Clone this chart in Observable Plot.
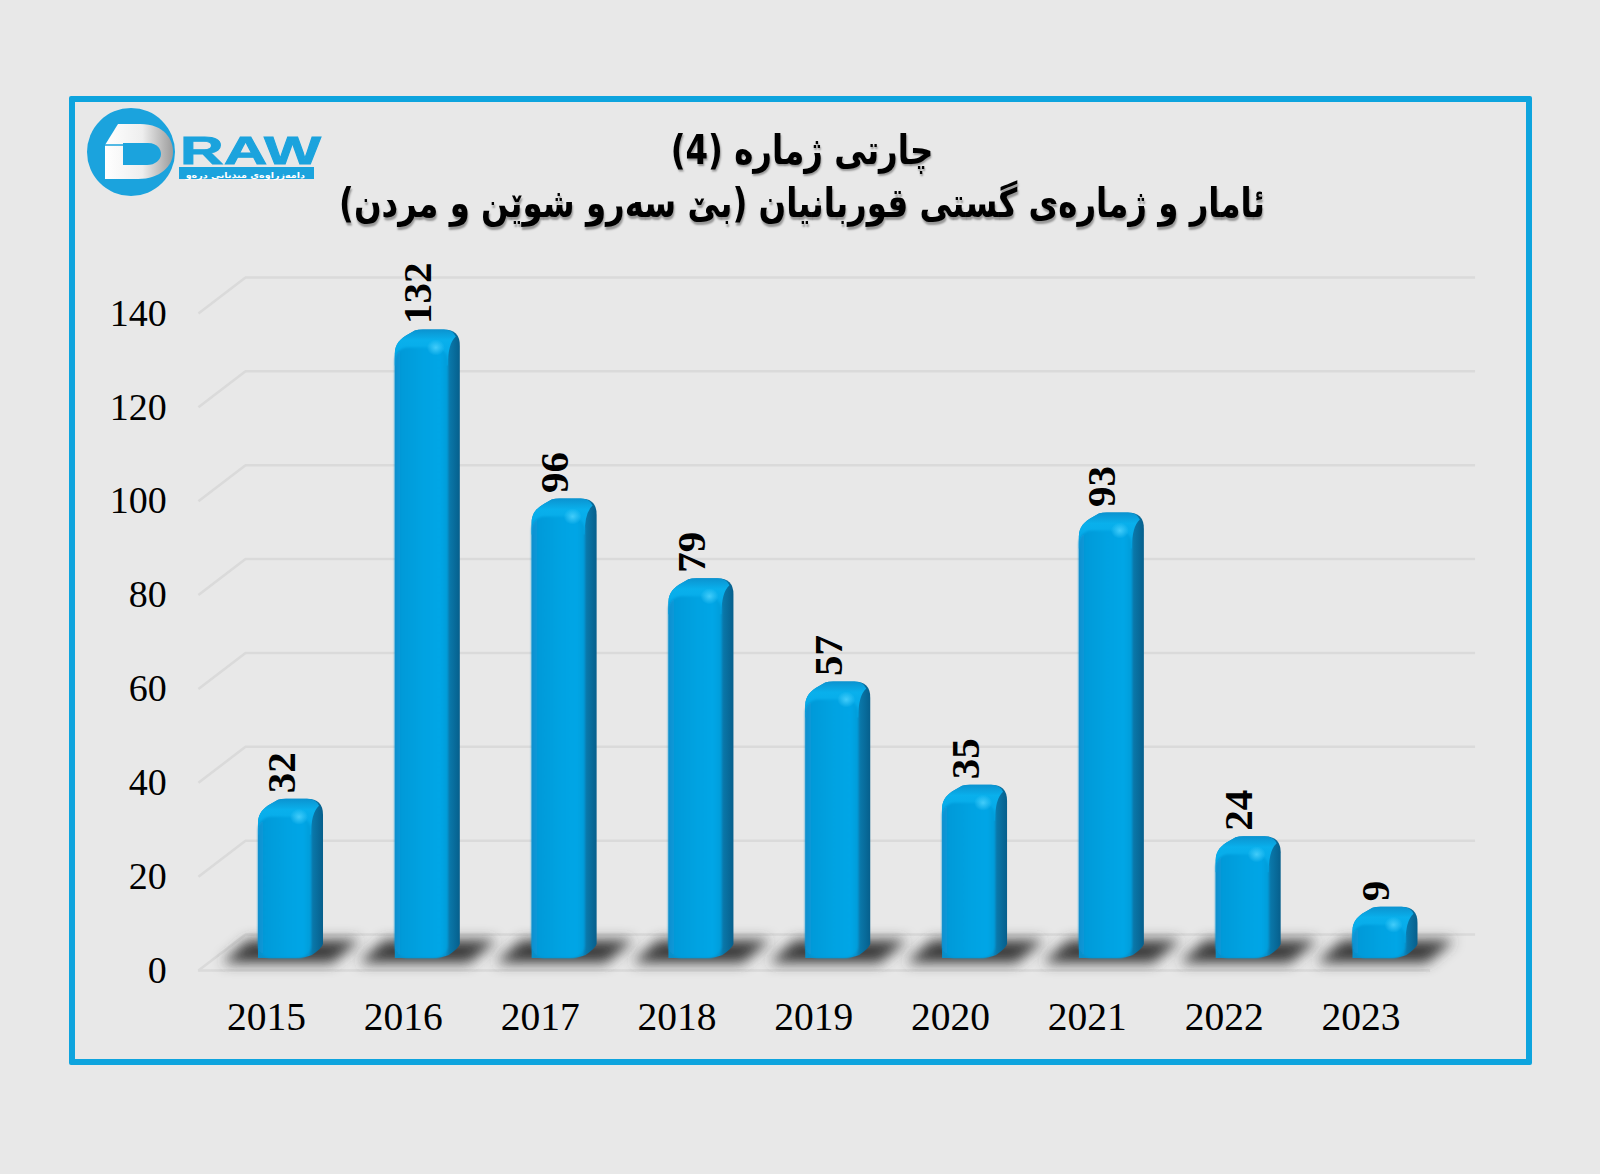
<!DOCTYPE html>
<html lang="ckb">
<head>
<meta charset="utf-8">
<script src="https://cdn.jsdelivr.net/npm/d3@7"></script>
<script src="https://cdn.jsdelivr.net/npm/@observablehq/plot@0.6"></script>
<style>
  html, body { margin: 0; padding: 0; background: #e8e8e8; }
  #page { position: relative; width: 1600px; height: 1174px; overflow: hidden; background: #e8e8e8; }
  #box { position: absolute; left: 69px; top: 96px; width: 1451px; height: 957px; border: 6.5px solid #0ea4de; border-radius: 2px; }
  #title { position: absolute; left: 0; width: 1604px; top: 129px; text-align: center; direction: rtl; color: #000;
           font-family: "DejaVu Sans", "Noto Sans", sans-serif; font-weight: 700; font-size: 36px; line-height: 48px;
           text-shadow: 1px 2px 2px rgba(0,0,0,.35); transform: scale(.9, 1.12); transform-origin: 50% 50%; }
  #logo { position: absolute; left: 0; top: 0; }
  #chart { position: absolute; left: 0; top: 0; }
  #chart svg { display: block; background: transparent; }
</style>
</head>
<body>
<div id="page">
  <div id="chart"></div>
  <div id="box"></div>
  <svg id="logo" width="340" height="210" viewBox="0 0 340 210">
    <defs>
      <linearGradient id="logoD" x1="0" x2="1" y1="0" y2="0">
        <stop offset="0" stop-color="#ffffff"/><stop offset=".55" stop-color="#eeeeee"/><stop offset="1" stop-color="#9c9c9c"/>
      </linearGradient>
    </defs>
    <circle cx="131" cy="152" r="44" fill="#1ba3dd"/>
    <path d="M105,145 L118,124 H140 C165,124 173,140 173,152 C173,166 160,179 138,179 H105 Z" fill="url(#logoD)"/>
    <path d="M123,143 H148 C158,143 161,150 161,154 C161,160 155,165 147,165 H123 Z" fill="#1ba3dd"/>
    <path d="M105,145 H123" stroke="#1ba3dd" stroke-width="1.5"/>
    <text x="180" y="164" textLength="141" lengthAdjust="spacingAndGlyphs" font-family="Liberation Sans" font-weight="700" font-size="39" fill="#1ba3dd" stroke="#1ba3dd" stroke-width=".8">RAW</text>
    <rect x="179" y="167" width="135" height="12" fill="#1ba3dd"/>
    <text transform="translate(305 178) scale(1.2 1)" text-anchor="start" direction="rtl" font-family="DejaVu Sans" font-weight="700" font-size="8" fill="#ffffff">دامەزراوەی میدیایی درەو</text>
  </svg>
  <div id="title">چارتی ژمارە (4)<br>ئامار و ژمارەی گستی قوربانیان (بێ سەرو شوێن و مردن)</div>
</div>
<script>
const years  = [2015, 2016, 2017, 2018, 2019, 2020, 2021, 2022, 2023];
const values = [32, 132, 96, 79, 57, 35, 93, 24, 9];
const yTicks = [0, 20, 40, 60, 80, 100, 120, 140];
const table = years.map((year, i) => ({year, value: values[i]}));

// Pseudo-3D depth of the chart box, in data units
const depthX = 0.344, depthY = 7.67;
const floorLeft = 2014.327, floorRight = 2023.333, wallRight = 2023.662;
const gridColor = "#dadada";
const serif = "Liberation Serif, Times New Roman, serif";

const defs = () => {
  const g = document.createElementNS("http://www.w3.org/2000/svg", "defs");
  g.innerHTML = `
    <linearGradient id="faceGrad" x1="0" x2="1" y1="0" y2="0">
      <stop offset="0" stop-color="#0a8fcf"/><stop offset=".12" stop-color="#069ad9"/>
      <stop offset=".5" stop-color="#02a2e1"/><stop offset=".85" stop-color="#00a6e6"/><stop offset="1" stop-color="#049cd9"/>
    </linearGradient>
    <linearGradient id="sideGrad" x1="0" x2="1" y1="0" y2="0">
      <stop offset="0" stop-color="#0a8ec8"/><stop offset=".78" stop-color="#0790cc"/><stop offset=".84" stop-color="#0a78aa"/><stop offset="1" stop-color="#065f8c"/>
    </linearGradient>
    <linearGradient id="topGrad" x1="0" x2="0" y1="0" y2="1">
      <stop offset="0" stop-color="#0b93d0"/><stop offset=".3" stop-color="#09b0ec"/><stop offset=".75" stop-color="#05aae9"/><stop offset="1" stop-color="#02a3e2"/>
    </linearGradient>
    <radialGradient id="glow"><stop offset="0" stop-color="#42ccfa"/><stop offset="1" stop-color="#42ccfa" stop-opacity="0"/></radialGradient>
    <filter id="soft" x="-30%" y="-100%" width="160%" height="300%"><feGaussianBlur stdDeviation="6.5"/></filter>
    <filter id="seam" x="-5%" y="-5%" width="110%" height="110%"><feGaussianBlur stdDeviation="1.3"/></filter>`;
  return g;
};

// Offsets of the bar's 3D silhouette from the value's position on the front plane
const topOf = (y, v) => y(v) - 21, baseOf = y => y(0) - 12;

const shadows = (index, {x, y}) => {
  const g = d3.create("svg:g");
  for (const d of table) {
    const cx = x(d.year), b = baseOf(y);
    g.append("path")
      .attr("d", `M${cx - 68},${b + 5} L${cx - 42},${b - 18} H${cx + 70} L${cx + 42},${b + 5} Z`)
      .attr("fill", "#3a3a3a").attr("filter", "url(#soft)");
  }
  return g.node();
};

const bodies = (index, {x, y}) => {
  const g = d3.create("svg:g");
  for (const d of table) {
    const l = x(d.year) - 32, r = l + 65, T = topOf(y, d.value), B = baseOf(y);
    g.append("path").attr("fill", "url(#sideGrad)")
      .attr("d", `M${l},${B} L${l},${T + 24} C${l},${T + 14} ${l + 6},${T + 9} ${l + 13},${T + 5} L${l + 20},${T + 1} Q${l + 23},${T} ${l + 28},${T} L${r - 16},${T} Q${r},${T} ${r},${T + 16} L${r},${B - 14} Q${r - 1},${B - 10} ${r - 11},${B - 3} Q${r - 18},${B} ${r - 28},${B} Z`);
    g.append("path").attr("fill", "url(#topGrad)")
      .attr("d", `M${l},${T + 36} L${l},${T + 24} C${l},${T + 14} ${l + 6},${T + 9} ${l + 13},${T + 5} L${l + 20},${T + 1} Q${l + 23},${T} ${l + 28},${T} L${r - 16},${T} Q${r - 7},${T} ${r - 4},${T + 7} Q${r - 12},${T + 14} ${r - 12},${T + 36} Z`);
  }
  return g.node();
};

const glows = (index, {x, y}) => {
  const g = d3.create("svg:g");
  for (const d of table) {
    g.append("ellipse").attr("cx", x(d.year) + 9).attr("cy", topOf(y, d.value) + 18)
      .attr("rx", 9).attr("ry", 8).attr("fill", "url(#glow)");
  }
  return g.node();
};

const chart = Plot.plot({
  width: 1600,
  height: 1174,
  marginLeft: 153.2,
  marginRight: 78.7,
  marginTop: 313,
  marginBottom: 204,
  style: {background: "transparent"},
  x: {type: "linear", domain: [2014, 2024]},
  y: {type: "linear", domain: [0, 140]},
  marks: [
    defs,
    // back wall and left wall grid lines
    Plot.ruleY(yTicks, {y: d => d + depthY, x1: () => floorLeft + depthX, x2: () => wallRight, stroke: gridColor, strokeWidth: 2.5}),
    Plot.link(yTicks, {x1: () => floorLeft, y1: d => d, x2: () => floorLeft + depthX, y2: d => d + depthY, stroke: gridColor, strokeWidth: 2.5}),
    Plot.ruleY([0], {x1: () => floorLeft, x2: () => floorRight, stroke: gridColor, strokeWidth: 2.5}),
    shadows,
    bodies,
    Plot.rect(table, {
      x1: d => d.year - 32 / 136.8,
      x2: d => d.year + 21 / 136.8,
      y1: () => 0,
      y2: "value",
      insetTop: -3,
      insetBottom: 12,
      rx: 13,
      fill: "url(#faceGrad)",
      render(index, scales, values, dims, context, next) {
        const g = next(index, scales, values, dims, context);
        g.setAttribute("filter", "url(#seam)");
        return g;
      }
    }),
    glows,
    Plot.text(table, {
      x: "year", y: "value", text: d => String(d.value),
      rotate: -90, textAnchor: "start", lineAnchor: "middle",
      dx: -9, dy: -27,
      fontFamily: serif, fontWeight: 700, fontSize: 41, fill: "#000"
    }),
    Plot.axisY({ticks: yTicks, anchor: "left", tickSize: 0, tickPadding: 0, dx: 13, label: null,
      fontFamily: serif, fontSize: 38, fill: "#000", tickFormat: d => String(d)}),
    Plot.axisX({ticks: years, anchor: "bottom", tickSize: 0, tickPadding: 31, dx: -24, label: null,
      fontFamily: serif, fontSize: 39.5, fill: "#000", tickFormat: d => String(d)})
  ]
});
document.getElementById("chart").append(chart);
</script>
</body>
</html>
